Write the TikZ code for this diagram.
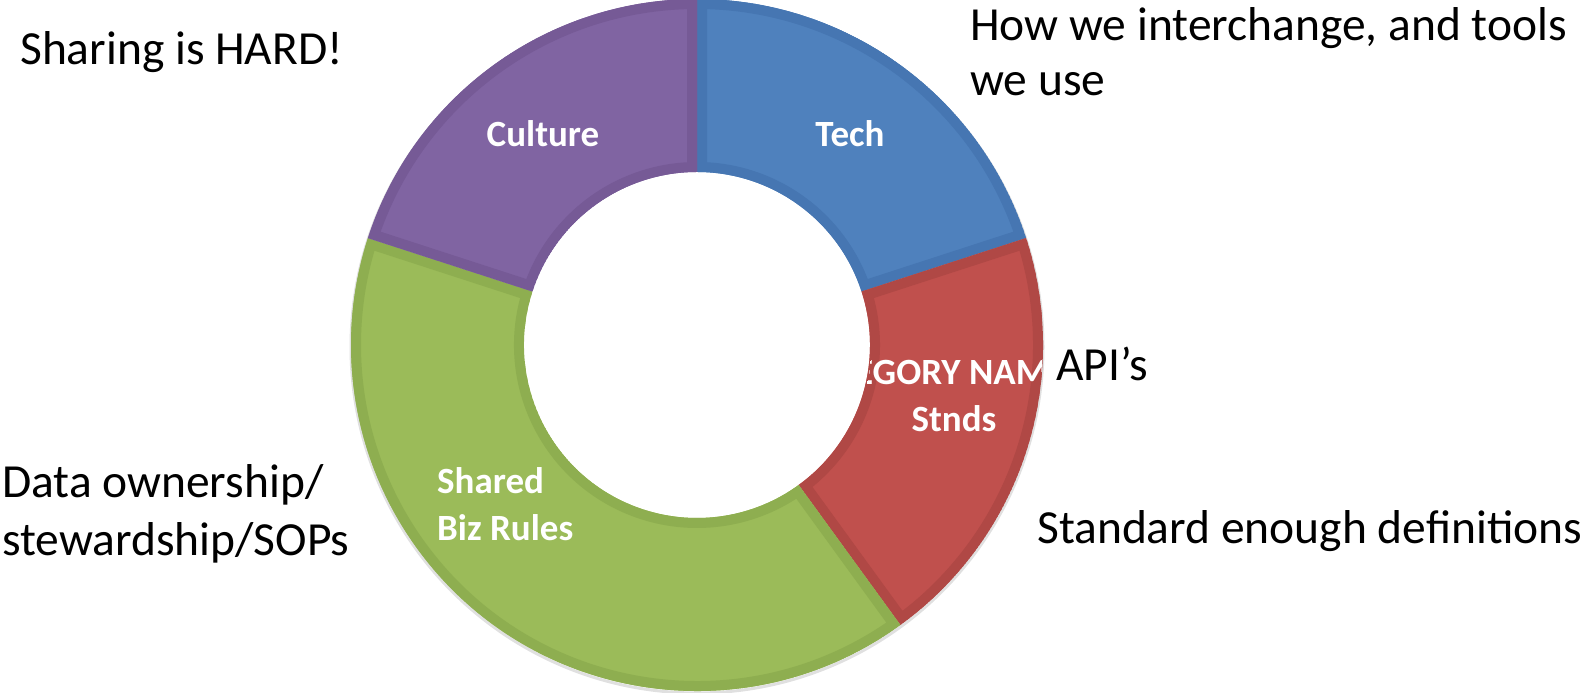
\documentclass[tikz,border=0pt]{standalone}
\usepackage{fontspec}
\setmainfont{Carlito}
\definecolor{cblue}{HTML}{4F81BD}
\definecolor{cbluedk}{HTML}{4676B2}
\definecolor{cred}{HTML}{C0504D}
\definecolor{creddk}{HTML}{B04845}
\definecolor{cgreen}{HTML}{9BBB59}
\definecolor{cgreendk}{HTML}{8EAE50}
\definecolor{cpurple}{HTML}{8064A2}
\definecolor{cpurpledk}{HTML}{765A96}
\newcommand\donutseg[4]{%
  \begin{scope}
    \clip (#1:346) arc[start angle=#1,end angle=#2,radius=346] -- (#2:173) arc[start angle=#2,end angle=#1,radius=173] -- cycle;
    \fill[#3] (#1:346) arc[start angle=#1,end angle=#2,radius=346] -- (#2:173) arc[start angle=#2,end angle=#1,radius=173] -- cycle;
    \draw[#4,line width=20] (#1:346) arc[start angle=#1,end angle=#2,radius=346] -- (#2:173) arc[start angle=#2,end angle=#1,radius=173] -- cycle;
  \end{scope}}
\tikzset{
  seglabel/.style={text=white,font=\fontsize{37}{47}\selectfont\bfseries,inner sep=0pt},
  note/.style={text=black,font=\fontsize{47.5}{58}\selectfont,inner sep=0pt,anchor=base west,align=left}
}
\begin{document}
\begin{tikzpicture}[x=1pt,y=1pt]
\useasboundingbox (0,0) rectangle (1591,693);
\begin{scope}[shift={(697,348)}]
  \draw[black!12,line width=3] (0,-2) circle (346);
  \donutseg{90}{18}{cblue}{cbluedk}
  \donutseg{18}{-54}{cred}{creddk}
  \donutseg{-54}{-198}{cgreen}{cgreendk}
  \donutseg{162}{90}{cpurple}{cpurpledk}
  \begin{scope}[even odd rule]
    \clip (0,0) circle (345) (0,0) circle (174);
    \node[seglabel,align=center] (stnds) at (257,-51) {CATEGORY NAME\hspace*{44pt}\mbox{}\\Stnds};
  \end{scope}
\end{scope}
\node[seglabel] (culture) at (543,559) {Culture};
\node[seglabel] (tech) at (850,559) {Tech};
\node[seglabel,align=left,anchor=west] (shared) at (437,189) {Shared\\Biz Rules};
\node[note] (hard) at (20,628) {Sharing is HARD!};
\node[note,font=\fontsize{47.5}{55}\selectfont] (how) at (970,597) {How we interchange, and tools\\we use};
\node[note,fill=white,inner sep=1pt] (api) at (1055,312) {API’s};
\node[note] (std) at (1037,149) {Standard enough definitions};
\node[note] (data) at (2,137) {Data ownership/\\stewardship/SOPs};
\end{tikzpicture}
\end{document}
